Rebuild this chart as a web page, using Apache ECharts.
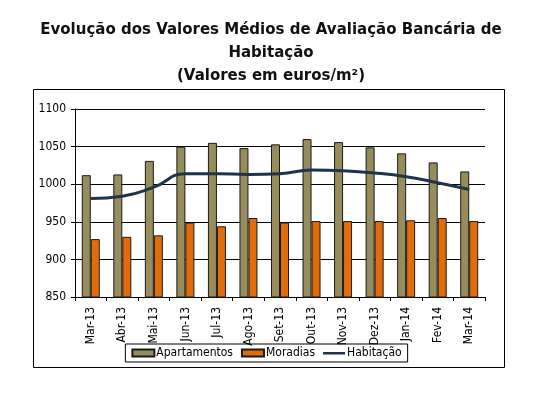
<!DOCTYPE html>
<html>
<head>
<meta charset="utf-8">
<script src="https://cdn.jsdelivr.net/npm/echarts@6/dist/echarts.min.js"></script>
<style>
  html, body { margin: 0; padding: 0; background: #fff; }
  #chart { width: 533px; height: 402px; }
</style>
</head>
<body>
<div id="chart"></div>
<script>
// meses
var meses = ['Mar-13', 'Abr-13', 'Mai-13', 'Jun-13', 'Jul-13', 'Ago-13', 'Set-13',
             'Out-13', 'Nov-13', 'Dez-13', 'Jan-14', 'Fev-14', 'Mar-14'];
var apartamentos = [1012, 1013, 1031, 1050, 1055, 1048, 1053, 1060, 1056, 1049, 1041, 1029, 1017];
var moradias = [927, 930, 932, 949, 944, 955, 949, 951, 951, 951, 952, 955, 951];
var habitacao = [981, 984, 996, 1014, 1014, 1013, 1014, 1019, 1018, 1015, 1010, 1002, 993];
var yTicks = [850, 900, 950, 1000, 1050, 1100];

var chart = echarts.init(document.getElementById('chart'));
var fonte = 'Tahoma, "DejaVu Sans Condensed", "DejaVu Sans", sans-serif';
// icone de linha para a legenda (faixa fina a meio da caixa)
var iconeLinha = 'path://M0,0L0.01,0L0.01,0.01Z M0,2.5L22,2.5L22,5L0,5Z M0,7L0.01,7L0.01,6.99Z';

var option = {
    animation: false,
    title: {
        text: 'Evolução dos Valores Médios de Avaliação Bancária de\nHabitação\n(Valores em euros/m²)',
        left: 266,
        top: 14,
        textAlign: 'center',
        textStyle: {
            fontFamily: '"DejaVu Sans", sans-serif',
            fontWeight: 'bold',
            fontSize: 15,
            lineHeight: 23,
            color: '#111'
        }
    },
    graphic: [{
        type: 'rect',
        shape: {x: 33.5, y: 89.5, width: 471, height: 278},
        style: {fill: 'none', stroke: '#000', lineWidth: 1},
        z: -1
    }],
    legend: {
        left: 'center',
        top: 344,
        itemWidth: 22,
        itemHeight: 7,
        itemGap: 8,
        padding: [3, 6, 3, 6],
        borderColor: '#000',
        borderWidth: 1,
        borderRadius: 0,
        textStyle: {fontFamily: fonte, fontSize: 12, color: '#000', padding: [0, 0, 0, -3]},
        data: [
            {name: 'Apartamentos', icon: 'rect'},
            {name: 'Moradias', icon: 'rect'},
            {name: 'Habitação', icon: iconeLinha, itemStyle: {color: '#1f3349', borderWidth: 0}}
        ]
    },
    grid: {left: 75, right: 48, top: 109, bottom: 105},
    xAxis: {
        type: 'category',
        data: meses,
        axisLine: {lineStyle: {color: '#000', width: 1}},
        axisTick: {show: true, length: 4, lineStyle: {color: '#000'}},
        axisLabel: {
            rotate: 90,
            interval: 0,
            margin: 10,
            fontFamily: fonte,
            fontSize: 12,
            color: '#000'
        }
    },
    yAxis: {
        type: 'value',
        min: yTicks[0],
        max: yTicks[yTicks.length - 1],
        interval: 50,
        axisLine: {show: true, lineStyle: {color: '#000', width: 1}},
        axisTick: {show: true, length: 4, lineStyle: {color: '#000'}},
        axisLabel: {
            fontFamily: fonte, fontSize: 12, color: '#000', margin: 9,
            formatter: function (v) { return String(v); }
        },
        splitLine: {lineStyle: {color: '#000', width: 1}}
    },
    series: [
        {
            name: 'Apartamentos',
            type: 'bar',
            data: apartamentos,
            barWidth: 9,
            barGap: '0%',
            itemStyle: {color: '#968c5c', borderColor: '#1a1a1a', borderWidth: 1}
        },
        {
            name: 'Moradias',
            type: 'bar',
            data: moradias,
            barWidth: 9,
            itemStyle: {color: '#e36c0a', borderColor: '#1a1a1a', borderWidth: 1}
        },
        {
            name: 'Habitação',
            type: 'line',
            data: habitacao,
            smooth: true,
            symbol: 'none',
            lineStyle: {color: '#1f3349', width: 3},
            itemStyle: {color: '#1f3349'},
            z: 5
        }
    ]
};
chart.setOption(option);
</script>
</body>
</html>
